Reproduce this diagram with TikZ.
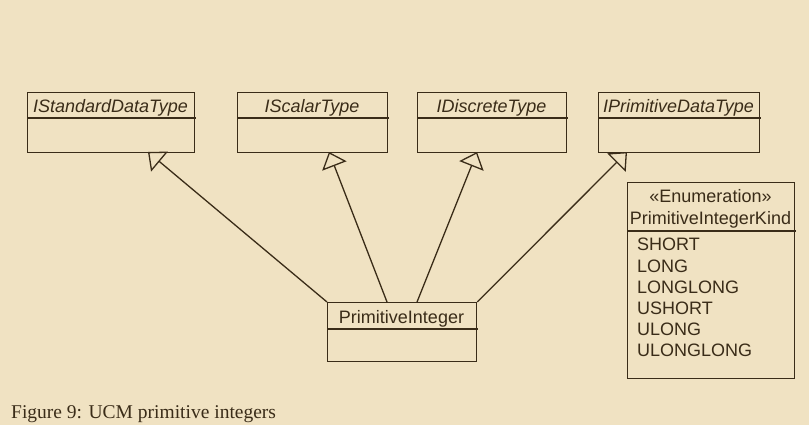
\documentclass[tikz,border=0pt]{standalone}
\usepackage{fontspec}
\setmainfont{Liberation Serif}
\setsansfont{Liberation Sans}
\usetikzlibrary{arrows.meta}
\definecolor{bg}{RGB}{240,226,194}
\definecolor{ink}{RGB}{58,44,24}
\begin{document}
\begin{tikzpicture}[x=1pt,y=-1pt,
  classbox/.style={draw=ink, line width=1.3pt, rectangle, inner sep=0pt, anchor=north west},
  divider/.style={draw=ink, line width=1.3pt},
  umltext/.style={font=\sffamily\fontsize{18}{21}\selectfont, text=ink, inner sep=0pt, anchor=base},
  umlit/.style={umltext, font=\sffamily\itshape\fontsize{18}{21}\selectfont},
  literal/.style={umltext, anchor=base west},
  gen/.style={draw=ink, line width=1.3pt, -{Triangle[open,length=15pt,width=26pt,fill=bg]}},
  caption/.style={font=\rmfamily\fontsize{19.5}{22}\selectfont, text=ink, inner sep=0pt, anchor=base west}]
\fill[bg] (0,0) rectangle (809,425);
\useasboundingbox (0,0) rectangle (809,425);

% interface boxes
\node[classbox, minimum width=167pt, minimum height=60pt] (sdt) at (27,92) {};
\draw[divider] (27,118) -- (196,118);
\node[umlit] (sdtn) at (110.5,113) {IStandardDataType};

\node[classbox, minimum width=150pt, minimum height=60pt] (sca) at (237,92) {};
\draw[divider] (237,118) -- (389,118);
\node[umlit] (scan) at (312,113) {IScalarType};

\node[classbox, minimum width=149pt, minimum height=60pt] (dis) at (417,92) {};
\draw[divider] (417,118) -- (568,118);
\node[umlit] (disn) at (491.5,113) {IDiscreteType};

\node[classbox, minimum width=161pt, minimum height=60pt] (pdt) at (598,92) {};
\draw[divider] (598,118) -- (761,118);
\node[umlit] (pdtn) at (678.5,113) {IPrimitiveDataType};

% PrimitiveInteger
\node[classbox, minimum width=149pt, minimum height=59pt] (pi) at (327,302) {};
\draw[divider] (327,329) -- (478,329);
\node[umltext] (pin) at (401.5,323) {PrimitiveInteger};

% enumeration
\node[classbox, minimum width=167pt, minimum height=196pt] (enm) at (627,182) {};
\draw[divider] (627,231) -- (796,231);
\node[umltext] (st) at (710.5,203) {«Enumeration»};
\node[umltext] (enmn) at (710.5,225) {PrimitiveIntegerKind};
\node[literal] (l1) at (637,251) {SHORT};
\node[literal] (l2) at (637,272) {LONG};
\node[literal] (l3) at (637,293) {LONGLONG};
\node[literal] (l4) at (637,314) {USHORT};
\node[literal] (l5) at (637,335) {ULONG};
\node[literal] (l6) at (637,356) {ULONGLONG};

% generalizations
\coordinate (s2) at (387,302);
\coordinate (s3) at (417,302);
\coordinate (t1) at (148,152);
\coordinate (t2) at (329,152);
\coordinate (t3) at (477,152);
\coordinate (t4) at (627,152);
\draw[gen] (pi.north west) -- (t1);
\draw[gen] (s2) -- (t2);
\draw[gen] (s3) -- (t3);
\draw[gen] (pi.north east) -- (t4);

\node[caption] (cap) at (11,418) {Figure 9: UCM primitive integers};
\end{tikzpicture}
\end{document}
